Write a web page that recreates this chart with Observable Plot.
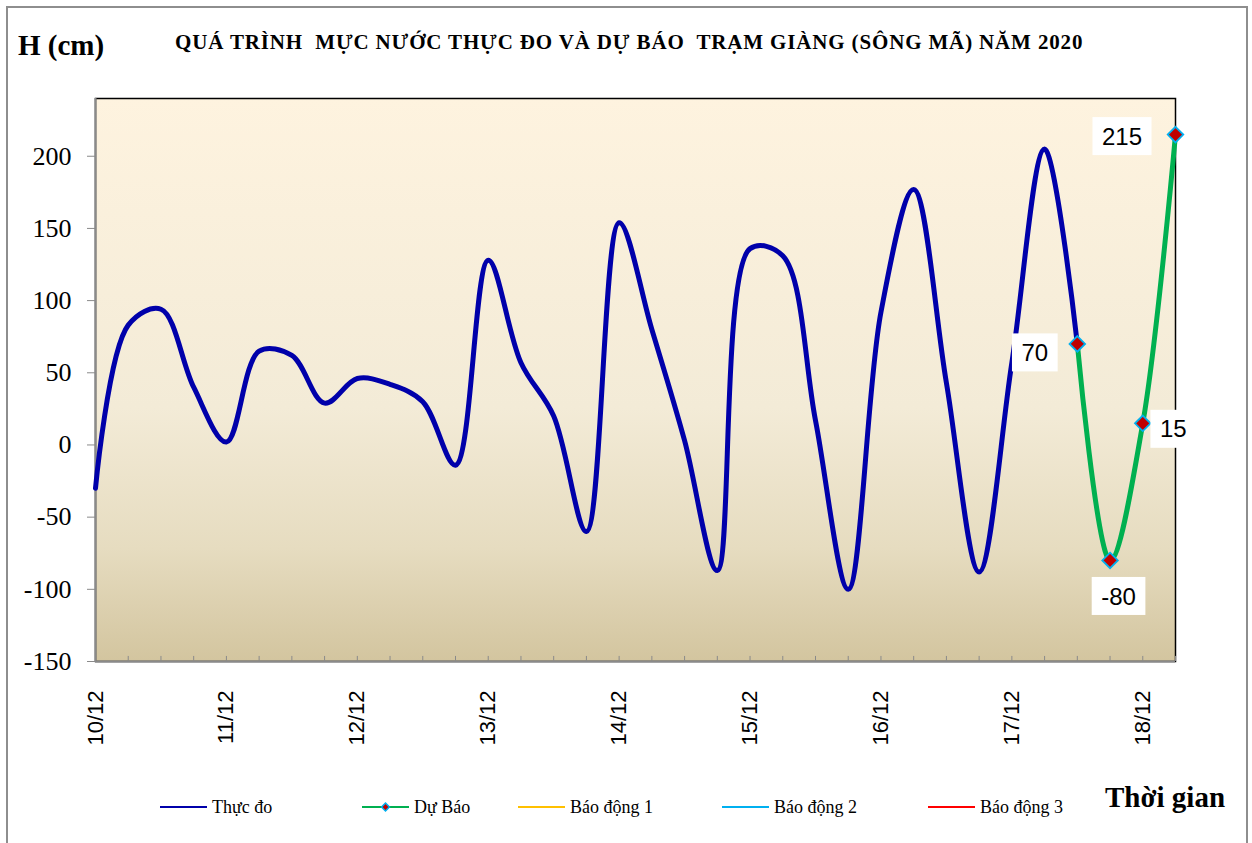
<!DOCTYPE html>
<html>
<head>
<meta charset="utf-8">
<script src="https://cdn.jsdelivr.net/npm/d3@7"></script>
<script src="https://cdn.jsdelivr.net/npm/@observablehq/plot@0.6"></script>
<style>
  body { margin: 0; background: #fff; }
  #wrap { position: relative; width: 1252px; height: 843px; overflow: hidden; background: #fff; }
  #outer { position: absolute; left: 6px; top: 6px; width: 1242px; height: 880px; border: 2px solid #8e8e8e; box-sizing: border-box; }
  #chart { position: absolute; left: 0; top: 0; }
  .ov { position: absolute; white-space: pre; line-height: 1; color: #000; }
  #ylab { left: 18px; top: 29px; font: bold 29px "Liberation Serif", serif; }
  #title { left: 175px; top: 30px; font: bold 21px "Liberation Serif", serif; letter-spacing: 0.85px; }
  #xlab { left: 1105px; top: 781px; font: bold 29px "Liberation Serif", serif; }
  .leg { position: absolute; top: 798px; font: 18px "Liberation Serif", serif; line-height: 1; white-space: pre; }
  .legline { position: absolute; top: 797px; }
</style>
</head>
<body>
<div id="wrap">
  <div id="outer"></div>
  <div id="chart"></div>
  <div class="ov" id="ylab">H (cm)</div>
  <div class="ov" id="title">QUÁ TRÌNH  MỰC NƯỚC THỰC ĐO VÀ DỰ BÁO  TRẠM GIÀNG (SÔNG MÃ) NĂM 2020</div>
  <div class="ov" id="xlab">Thời gian</div>
  <div id="legend"></div>
</div>
<script>
// ---------- data ----------
const xTickLabels = ["10/12", "11/12", "12/12", "13/12", "14/12", "15/12", "16/12", "17/12", "18/12"];
const stepsPerDay = 4; // observations at 6-hour steps
const observed = [-30, 83, 94, 40, 2, 65, 62, 29, 46, 42, 30, -14, 128, 57, 20, -60, 154, 80, 3, -87,
                  136, 131, 17, -100, 92, 177, 43, -88, 57, 205, 70];
const forecast = [70, -80, 15, 215];
const forecastStart = 30;
const yTicks = [-150, -100, -50, 0, 50, 100, 150, 200];
const yDomain = [-150, 240];
const seriesNames = ["Thực đo", "Dự Báo", "Báo động 1", "Báo động 2", "Báo động 3"];
const seriesColors = ["#0000AA", "#00B050", "#FFC000", "#00B0F0", "#FF0000"];

// ---------- derived tables ----------
const obsData = observed.map((v, i) => ({i, v}));
const fcData = forecast.map((v, k) => ({i: forecastStart + k, v}));
const nSteps = forecastStart + forecast.length; // 34 points
const allIdx = d3.range(nSteps);
const labelIdx = xTickLabels.map((_, d) => d * stepsPerDay);

// label placement (pixel offsets from the point), keyed by point index
const labelOffsetByIndex = {30: [-42, 9], 31: [9, 36], 32: [31, 6], 33: [-53, 2]};
const labelFont = "24px 'Liberation Sans', Arial, sans-serif";
const serifFont = "Liberation Serif";

const measureCtx = document.createElement("canvas").getContext("2d");
measureCtx.font = labelFont;

const background = (index, scales, values, dims) => {
  const {width, height, marginLeft, marginRight, marginTop, marginBottom} = dims;
  const g = d3.create("svg:g");
  const grad = g.append("defs").append("linearGradient")
    .attr("id", "bggrad").attr("x1", 0).attr("y1", 0).attr("x2", 0).attr("y2", 1);
  grad.append("stop").attr("offset", "0%").attr("stop-color", "#FEF3DF");
  grad.append("stop").attr("offset", "55%").attr("stop-color", "#F3EBD7");
  grad.append("stop").attr("offset", "80%").attr("stop-color", "#E6DCC0");
  grad.append("stop").attr("offset", "100%").attr("stop-color", "#D3C59F");
  g.append("rect")
    .attr("x", marginLeft).attr("y", marginTop)
    .attr("width", width - marginLeft - marginRight)
    .attr("height", height - marginTop - marginBottom)
    .attr("fill", "url(#bggrad)");
  return g.node();
};

// white boxes + text for data labels, positioned through the scales
const dataLabels = (index, scales) => {
  const g = d3.create("svg:g");
  fcData.forEach(d => {
    const [dx, dy] = labelOffsetByIndex[d.i];
    const cx = scales.x(d.i) + dx;
    const cy = scales.y(d.v) + dy;
    const txt = String(d.v);
    const w = measureCtx.measureText(txt).width + 19;
    const h = 38;
    g.append("rect").attr("x", cx - w / 2).attr("y", cy - h / 2)
      .attr("width", w).attr("height", h).attr("fill", "#fff");
    g.append("text").attr("x", cx).attr("y", cy).attr("dy", "0.36em")
      .attr("text-anchor", "middle").style("font", labelFont).attr("fill", "#000")
      .text(txt);
  });
  return g.node();
};

const chart = Plot.plot({
  width: 1252,
  height: 843,
  marginLeft: 95,
  marginRight: 77,
  marginTop: 98,
  marginBottom: 182,
  style: {background: "transparent", overflow: "visible"},
  x: {domain: [0, nSteps - 1]},
  y: {domain: yDomain},
  marks: [
    background,
    Plot.frame({stroke: "#000", strokeWidth: 1.5}),
    Plot.ruleX([0], {stroke: "#8a8a8a", strokeWidth: 2}),
    Plot.ruleY([yDomain[0]], {stroke: "#8a8a8a", strokeWidth: 2}),
    Plot.ruleX(allIdx.slice(1), {x: d => d, y1: yDomain[0], y2: yDomain[0] + 3.5, stroke: "#8a8a8a", strokeWidth: 1}),
    Plot.axisY({ticks: yTicks, text: null, tickSize: 8, stroke: "#8a8a8a", label: null}),
    Plot.text(yTicks, {y: d => d, text: d => String(d), frameAnchor: "left", dx: -24, textAnchor: "end",
      fontSize: 26, fontFamily: serifFont, fill: "#000"}),
    Plot.axisX({ticks: labelIdx, tickFormat: d => xTickLabels[d / stepsPerDay], tickRotate: -90,
      tickSize: 0, tickPadding: 29, fontSize: 22, fontFamily: "Liberation Sans", label: null}),
    Plot.line(obsData, {x: "i", y: "v", stroke: seriesColors[0], strokeWidth: 5, curve: "catmull-rom"}),
    Plot.line(fcData, {x: "i", y: "v", stroke: seriesColors[1], strokeWidth: 5, curve: "catmull-rom"}),
    Plot.dot(fcData, {x: "i", y: "v", symbol: "diamond2", r: 7, fill: "#C00000", stroke: "#00B0F0", strokeWidth: 1.8}),
    dataLabels
  ]
});

document.getElementById("chart").appendChild(chart);

// legend
const legLineX = [160, 362, 518, 722, 928];
const legend = document.getElementById("legend");
seriesNames.forEach((name, k) => {
  const x0 = legLineX[k];
  const s = d3.create("svg").attr("class", "legline").attr("width", 50).attr("height", 20)
    .style("left", x0 + "px");
  s.append("line").attr("x1", 0).attr("x2", 47).attr("y1", 10).attr("y2", 10)
    .attr("stroke", seriesColors[k]).attr("stroke-width", 2.2);
  if (k === 1) {
    s.append("path").attr("d", d3.symbol(d3.symbolDiamond2, 40)())
      .attr("transform", "translate(23.5,10)").attr("fill", "#C00000")
      .attr("stroke", "#00B0F0").attr("stroke-width", 1.5);
  }
  legend.appendChild(s.node());
  const t = document.createElement("div");
  t.className = "leg";
  t.style.left = (x0 + 52) + "px";
  t.textContent = name;
  legend.appendChild(t);
});
</script>
</body>
</html>
